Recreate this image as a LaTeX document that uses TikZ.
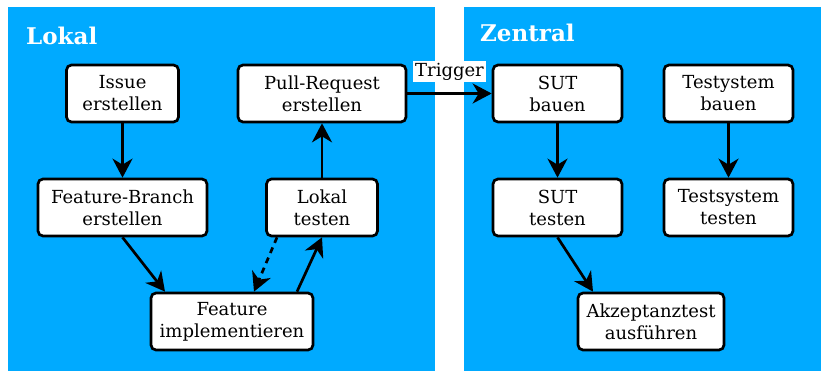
\documentclass[tikz,border=0pt]{standalone}
\usepackage{fontspec}
\setmainfont{DejaVu Serif}
\usetikzlibrary{arrows.meta}
\definecolor{panelblue}{RGB}{0,170,255}
\tikzset{
  task/.style={draw, fill=white, line width=2.7pt, rounded corners=5pt, align=center,
    minimum height=57pt, inner sep=0pt, font=\fontsize{18}{22}\selectfont},
  flow/.style={line width=2.7pt, -{Stealth[length=19pt,width=20pt,inset=6pt]}},
  title/.style={text=white, font=\fontsize{23}{26}\bfseries\selectfont, anchor=base west, inner sep=0pt},
  edgelabel/.style={fill=white, inner sep=2pt, font=\fontsize{18}{22}\selectfont}
}
\begin{document}
\begin{tikzpicture}[x=1pt, y=-1pt]
  \useasboundingbox (0,0) rectangle (821,371);
  % panels
  \fill[panelblue] (8,7) rectangle (435,371);
  \fill[panelblue] (464,7) rectangle (821,371);
  \node[title] (lokal) at (26,45) {Lokal};
  \node[title] (zentral) at (480,42) {Zentral};
  % Lokal
  \node[task, minimum width=112pt] (issue) at (122.5,93.5) {Issue\\erstellen};
  \node[task, minimum width=168pt] (pullreq) at (322,93.5) {Pull-Request\\erstellen};
  \node[task, minimum width=169pt] (branch) at (122.5,207.5) {Feature-Branch\\erstellen};
  \node[task, minimum width=111pt] (lokaltest) at (322,207.5) {Lokal\\testen};
  \node[task, minimum width=162pt] (impl) at (232,321.5) {Feature\\implementieren};
  % Zentral
  \node[task, minimum width=129pt] (sutbau) at (557.5,93.5) {SUT\\bauen};
  \node[task, minimum width=129pt] (testbau) at (728.5,93.5) {Testystem\\bauen};
  \node[task, minimum width=129pt] (suttest) at (557.5,207.5) {SUT\\testen};
  \node[task, minimum width=129pt] (testtest) at (728.5,207.5) {Testsystem\\testen};
  \node[task, minimum width=146pt] (akzept) at (651,321.5) {Akzeptanztest\\ausführen};
  % arrows
  \draw[flow] (issue) -- (branch);
  \draw[flow] (branch.south) -- ([xshift=-67pt]impl.north);
  \draw[flow] ([xshift=65pt]impl.north) -- (lokaltest.south);
  \draw[flow, dash pattern=on 6pt off 5pt] ([xshift=-45pt]lokaltest.south) -- ([xshift=22pt]impl.north);
  \draw[flow] (lokaltest) -- (pullreq);
  \draw[flow] (pullreq) -- node[edgelabel, above=10pt] (trigger) {Trigger} (sutbau);
  \draw[flow] (sutbau) -- (suttest);
  \draw[flow] (testbau) -- (testtest);
  \draw[flow] (suttest.south) -- ([xshift=-58pt]akzept.north);
\end{tikzpicture}
\end{document}
